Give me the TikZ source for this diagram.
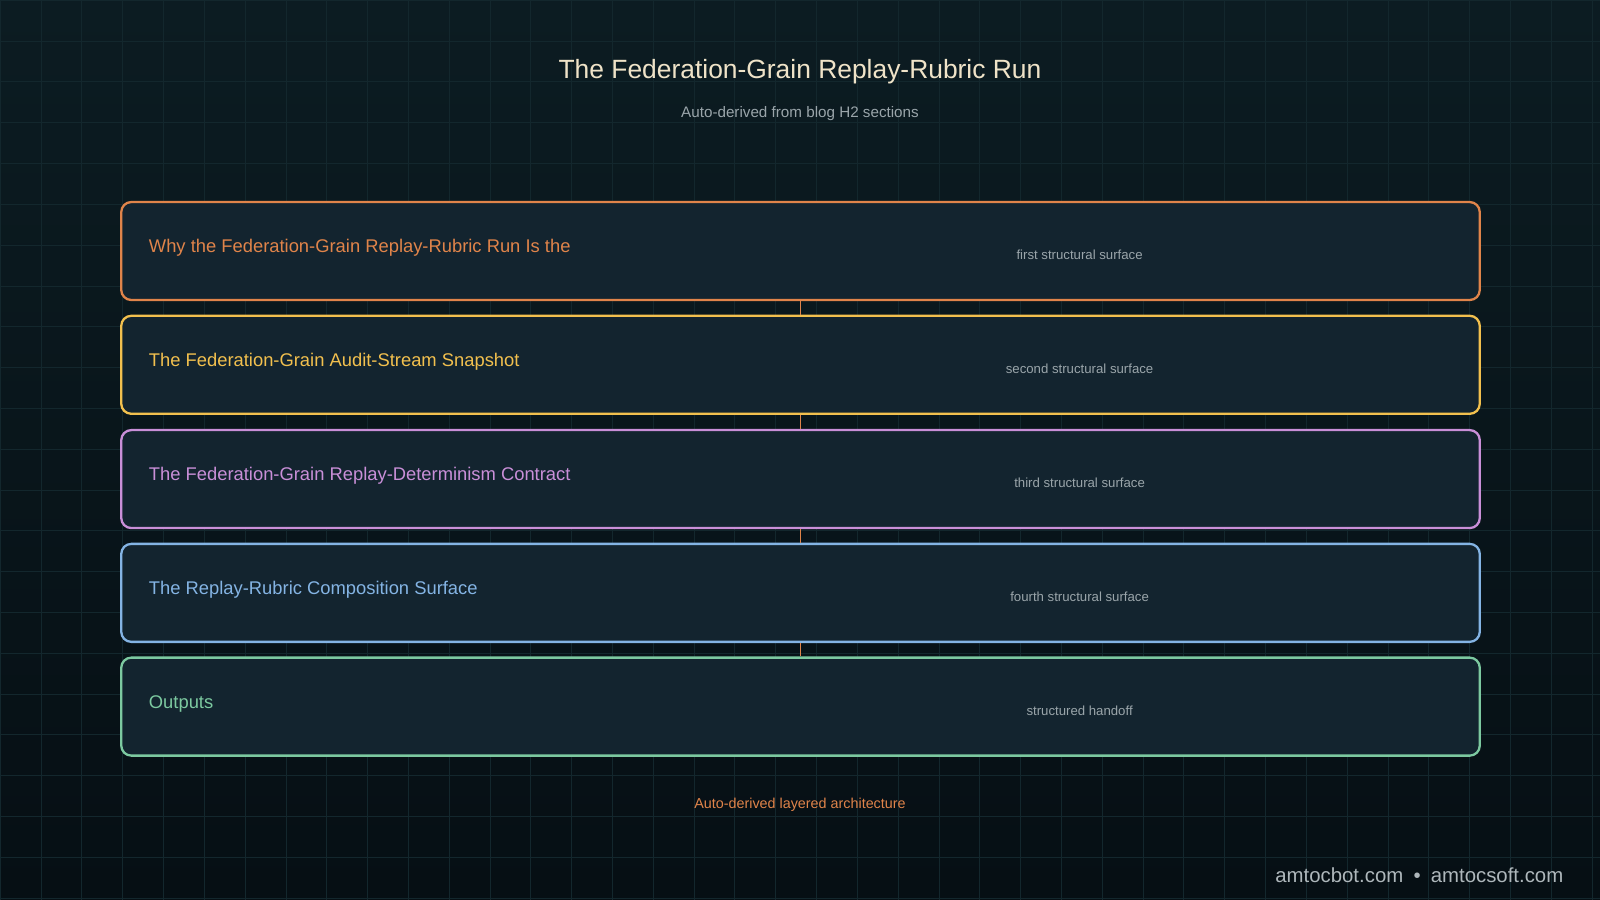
\documentclass[tikz,border=0pt]{standalone}
\usepackage{fontspec}
\setmainfont{Liberation Sans}
\usetikzlibrary{positioning}
\definecolor{bgtop}{HTML}{0C1C22}
\definecolor{bgbot}{HTML}{060F14}
\definecolor{boxfill}{HTML}{13242F}
\definecolor{gridc}{HTML}{13272D}
\definecolor{ttl}{HTML}{EFE3C8}
\definecolor{sub}{HTML}{9AA5AA}
\definecolor{cOrange}{HTML}{E0844A}
\definecolor{cYellow}{HTML}{F2C04E}
\definecolor{cPurple}{HTML}{C98FD8}
\definecolor{cBlue}{HTML}{84B4E4}
\definecolor{cGreen}{HTML}{7CC9A0}
\tikzset{
  layer/.style={draw=#1, line width=1.6pt, fill=boxfill, rounded corners=7pt,
    minimum width=33.275cm, minimum height=2.4cm, inner sep=0pt},
  head/.style={text=#1, font=\fontsize{12.8}{15}\selectfont, anchor=west},
  note/.style={text=sub, font=\fontsize{9.2}{11}\selectfont},
  link/.style={draw=cOrange, line width=0.9pt}
}
\begin{document}
\begin{tikzpicture}[x=0.025cm, y=-0.025cm]
% Hintergrund
\shade[top color=bgtop, bottom color=bgbot] (0,0) rectangle (1568,882);
\useasboundingbox (0,0) rectangle (1568,882);
\foreach \gx in {0,40,...,1560} \draw[gridc, line width=0.3pt] (\gx,0) -- (\gx,882);
\foreach \gy in {0,40,...,880} \draw[gridc, line width=0.3pt] (0,\gy) -- (1568,\gy);
% Titel
\node[text=ttl, font=\fontsize{18.4}{22}\selectfont] (title) at (784,70) {The Federation-Grain Replay-Rubric Run};
\node[text=sub, font=\fontsize{10.6}{13}\selectfont] (subtitle) at (784,111) {Auto-derived from blog H2 sections};
% Schichten
\foreach \i/\yy/\col/\txt/\nt in {
  1/246/cOrange/{Why the Federation-Grain Replay-Rubric Run Is the}/{first structural surface},
  2/357.5/cYellow/{The Federation-Grain Audit-Stream Snapshot}/{second structural surface},
  3/469.5/cPurple/{The Federation-Grain Replay-Determinism Contract}/{third structural surface},
  4/581/cBlue/{The Replay-Rubric Composition Surface}/{fourth structural surface},
  5/692.5/cGreen/{Outputs}/{structured handoff}} {
  \node[layer=\col] (L\i) at (784.5,\yy) {};
  \node[head=\col] (H\i) at (141,\yy-3) {\txt};
  \node[note] (N\i) at (1058,\yy+4) {\nt};
}
% Verbindungen
\foreach \a/\b in {1/2,2/3,3/4,4/5} \draw[link] (L\a.south) -- (L\b.north);
% Fusszeile
\node[text=cOrange, font=\fontsize{10}{12}\selectfont] (foot) at (784,789) {Auto-derived layered architecture};
\node[text=sub!80!white, font=\fontsize{14.2}{17}\selectfont, anchor=east] (mark) at (1537,858) {amtocbot.com\enspace•\enspace amtocsoft.com};
\end{tikzpicture}
\end{document}
